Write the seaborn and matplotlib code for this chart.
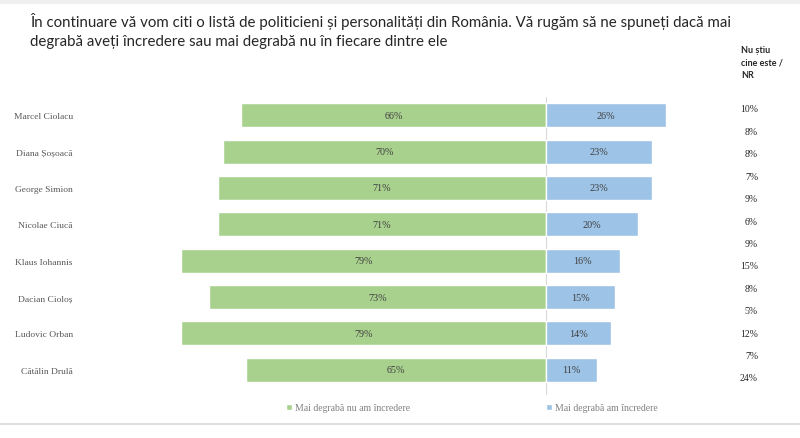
import numpy as np
import pandas as pd
import matplotlib
matplotlib.use("Agg")
import matplotlib.pyplot as plt
import seaborn as sns

# ---- data ----
politicians = ["Marcel Ciolacu", "Diana Șoșoacă", "George Simion", "Nicolae Ciucă",
               "Klaus Iohannis", "Dacian Cioloș", "Ludovic Orban", "Cătălin Drulă"]
distrust = [66, 70, 71, 71, 79, 73, 79, 65]
trust = [26, 23, 23, 20, 16, 15, 14, 11]
nr_values = [10, 8, 8, 7, 9, 6, 9, 15, 8, 5, 12, 7, 24]
title = ("În continuare vă vom citi o listă de politicieni și personalități din România. "
         "Vă rugăm să ne spuneți dacă mai\ndegrabă aveți încredere sau mai degrabă nu în fiecare dintre ele")
nr_header = "Nu știu\ncine este /\nNR"
legend_labels = ["Mai degrabă nu am încredere", "Mai degrabă am încredere"]

GREEN = "#a9d18e"
BLUE = "#9dc3e6"

sns.set_theme(style="white")
plt.rcParams['font.family'] = ['Liberation Serif', 'DejaVu Serif']

df = pd.DataFrame({"name": politicians, "distrust": distrust, "trust": trust})
df["neg"] = -df["distrust"]

W, H = 800, 439
fig = plt.figure(figsize=(8, 4.39), dpi=100)
ax = fig.add_axes([84 / W, (H - 389) / H, (703 - 84) / W, 291 / H])

sns.barplot(data=df, x="neg", y="name", orient="h", color=GREEN, width=0.66,
            saturation=1, ax=ax, legend=False)
sns.barplot(data=df, x="trust", y="name", orient="h", color=BLUE, width=0.66,
            saturation=1, ax=ax, legend=False)
if ax.get_legend() is not None:
    ax.get_legend().remove()

ax.set_xlim(-100, 34)
ax.set_ylim(7.5, -0.5)
ax.axvline(0, color="#d9d9d9", lw=0.8, ymin=-0.02, ymax=1.0, clip_on=False, zorder=0)
for s in ax.spines.values():
    s.set_visible(False)
ax.set_xticks([])
ax.set_xlabel("")
ax.set_ylabel("")
ax.tick_params(axis="y", length=0, pad=8, labelsize=6.8, labelcolor="#595959")

# bar labels
for i, (d, t) in enumerate(zip(distrust, trust)):
    ax.text(-d / 2, i, f"{d}%", ha="center", va="center", fontsize=7.3, color="#404040")
    ax.text(t / 2, i, f"{t}%", ha="center", va="center", fontsize=7.3, color="#404040")

# title
fig.text(30 / W, 1 - 31 / H, title, ha="left", va="center", fontsize=10.8,
         color="#262626", family=["Lato", "DejaVu Sans"],
         linespacing=1.45)

# NR column
fig.text(741 / W, 1 - 63 / H, nr_header, ha="left", va="center", fontsize=6.5,
         color="#262626", linespacing=1.45, fontweight="bold",
         family=["Lato", "DejaVu Sans"])
ys = np.linspace(110, 379, len(nr_values))
for v, y in zip(nr_values, ys):
    fig.text(758 / W, 1 - y / H, f"{v}%", ha="right", va="center", fontsize=7,
             color="#262626")

# legend
green_h = ax.patches[0]
blue_h = ax.patches[len(politicians)]
fig.legend(handles=[green_h, blue_h],
           labels=legend_labels, loc="center", bbox_to_anchor=(472 / W, 1 - 409 / H),
           ncol=2, frameon=False, fontsize=7, handlelength=0.6, handleheight=0.6,
           handletextpad=0.3, columnspacing=14, labelcolor="#808080")

# separator lines
fig.add_artist(plt.Line2D([0, 1], [1 - 425 / H, 1 - 425 / H], color="#e0e0e0", lw=1.5))
fig.add_artist(plt.Line2D([0, 1], [1 - 3 / H, 1 - 3 / H], color="#f0f0f0", lw=3))

fig.savefig("out.png", dpi=100, facecolor="white")
